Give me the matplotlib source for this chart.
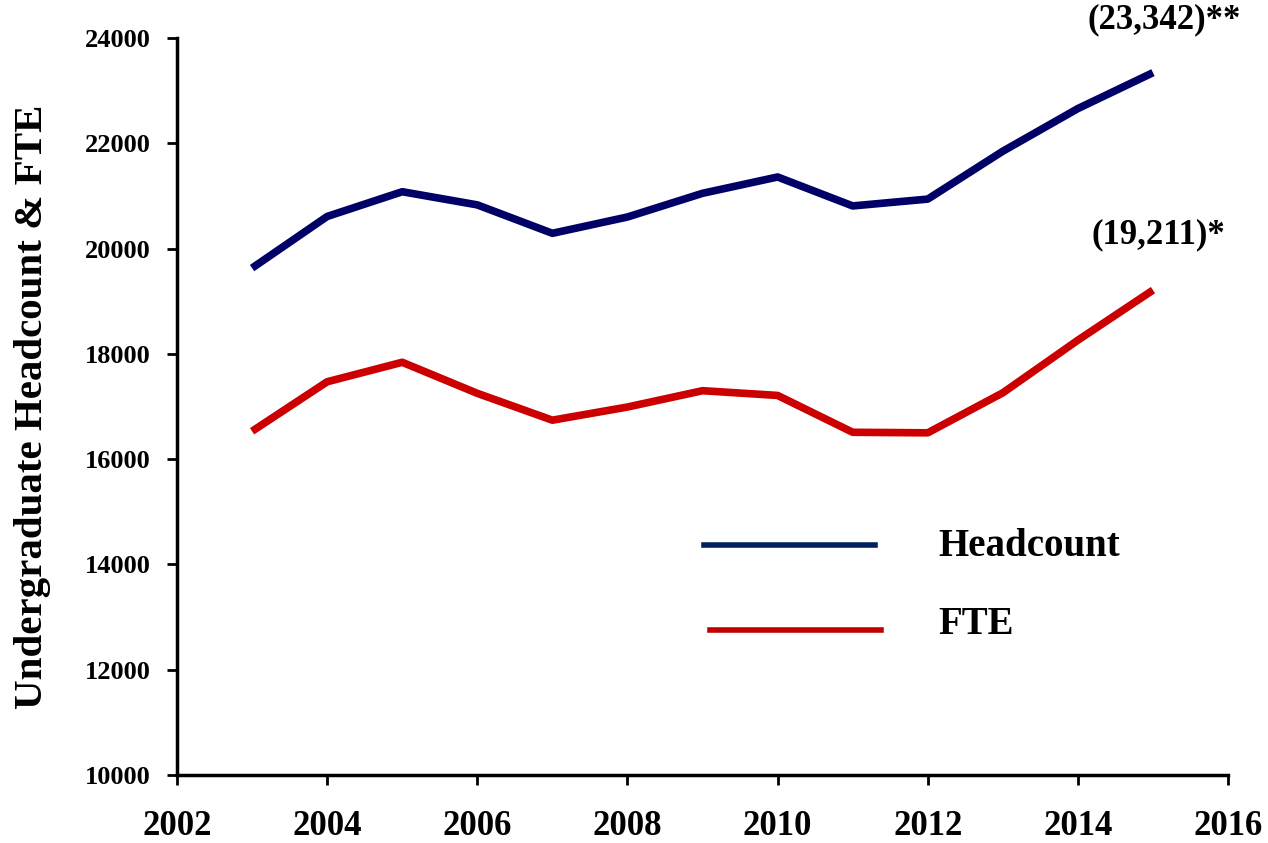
import matplotlib.pyplot as plt
from matplotlib.lines import Line2D

# datos
years = [2003, 2004, 2005, 2006, 2007, 2008, 2009, 2010, 2011, 2012, 2013, 2014, 2015]
headcount = [19630, 20610, 21080, 20830, 20290, 20600, 21050, 21360, 20810, 20940, 21850, 22660, 23342]
fte = [16530, 17470, 17840, 17250, 16740, 16990, 17300, 17210, 16510, 16500, 17260, 18260, 19211]

xticks = list(range(2002, 2017, 2))
yticks = list(range(10000, 24001, 2000))

plt.rcParams['font.family'] = ['Liberation Serif', 'DejaVu Serif']
plt.rcParams['font.weight'] = 'bold'

fig = plt.figure(figsize=(12.68, 8.43), dpi=100)
ax = fig.add_axes([0.1396, 0.0807, 0.8289, 0.8742])

ax.plot(years, headcount, color='#000066', lw=5.5, solid_capstyle='butt')
ax.plot(years, fte, color='#CC0000', lw=5.5, solid_capstyle='butt')

ax.set_xlim(2002, 2016)
ax.set_ylim(10000, 24000)
ax.set_xticks(xticks)
ax.set_yticks(yticks)
ax.set_xticklabels([str(x) for x in xticks], fontsize=25, fontweight='bold')
ax.set_yticklabels([str(y) for y in yticks], fontsize=19, fontweight='bold')
ax.tick_params(axis='x', direction='out', length=7, width=2, pad=18)
ax.tick_params(axis='y', direction='out', length=7, width=2, pad=12)

for s in ['top', 'right']:
    ax.spines[s].set_visible(False)
for s in ['left', 'bottom']:
    ax.spines[s].set_linewidth(2.5)

ax.set_ylabel('Undergraduate Headcount & FTE', fontsize=29.5, fontweight='bold', labelpad=24)

# etiquetas de valores finales
ax.annotate('(23,342)**', xy=(years[-1], headcount[-1]), xytext=(1164, 823),
            textcoords='figure pixels', ha='center', va='center', fontsize=25, fontweight='bold')
ax.annotate('(19,211)*', xy=(years[-1], fte[-1]), xytext=(1158, 608),
            textcoords='figure pixels', ha='center', va='center', fontsize=25, fontweight='bold')

# leyenda manual
fig.add_artist(Line2D([704 / 1268, 875 / 1268], [1 - 545 / 843, 1 - 545 / 843], color='#002060', lw=4))
fig.add_artist(Line2D([710 / 1268, 881 / 1268], [1 - 630 / 843, 1 - 630 / 843], color='#C00000', lw=4))
fig.text(938 / 1268, 1 - 547 / 843, 'Headcount', fontsize=28, fontweight='bold', va='center')
fig.text(938 / 1268, 1 - 625 / 843, 'FTE', fontsize=28, fontweight='bold', va='center')

fig.savefig('out.png', dpi=100)
